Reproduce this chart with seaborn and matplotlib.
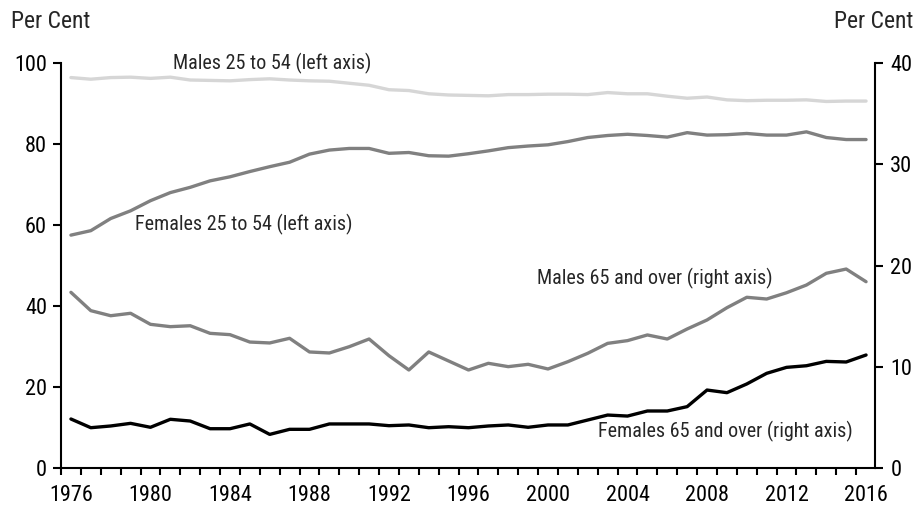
import matplotlib
matplotlib.use("Agg")
import matplotlib.pyplot as plt
import matplotlib.ticker as mticker
import seaborn as sns
import pandas as pd
import numpy as np
from matplotlib import font_manager

years = list(range(1976, 2017))

males_25_54 = [96.4, 96.0, 96.4, 96.5, 96.2, 96.5, 95.8, 95.7, 95.6, 95.9,
               96.1, 95.8, 95.6, 95.5, 95.0, 94.5, 93.4, 93.2, 92.4, 92.1,
               92.0, 91.9, 92.2, 92.2, 92.3, 92.3, 92.2, 92.7, 92.4, 92.4,
               91.8, 91.3, 91.6, 90.9, 90.7, 90.8, 90.8, 90.9, 90.5, 90.6, 90.6]

females_25_54 = [57.5, 58.6, 61.6, 63.5, 66.0, 68.0, 69.3, 70.9, 71.9, 73.2,
                 74.4, 75.5, 77.5, 78.5, 78.9, 78.9, 77.7, 77.9, 77.1, 77.0,
                 77.6, 78.3, 79.1, 79.5, 79.8, 80.6, 81.6, 82.1, 82.4, 82.1,
                 81.7, 82.8, 82.2, 82.3, 82.6, 82.2, 82.2, 83.0, 81.6, 81.1, 81.1]

males_65_over = [17.35, 15.54, 15.04, 15.28, 14.19, 13.96, 14.05, 13.30, 13.17, 12.44,
                 12.35, 12.81, 11.46, 11.36, 11.98, 12.74, 11.09, 9.68, 11.46, 10.57,
                 9.68, 10.34, 10.01, 10.24, 9.78, 10.50, 11.33, 12.31, 12.58, 13.14,
                 12.74, 13.73, 14.62, 15.83, 16.86, 16.69, 17.31, 18.07, 19.23, 19.65, 18.40]

females_65_over = [4.84, 3.98, 4.15, 4.41, 4.02, 4.81, 4.64, 3.88, 3.88, 4.35,
                   3.32, 3.82, 3.82, 4.35, 4.35, 4.35, 4.18, 4.25, 3.98, 4.08,
                   3.98, 4.15, 4.25, 4.02, 4.25, 4.25, 4.74, 5.23, 5.13, 5.63,
                   5.63, 6.06, 7.70, 7.44, 8.30, 9.35, 9.94, 10.10, 10.53, 10.47, 11.16]

left_ticks = [0, 20, 40, 60, 80, 100]
right_ticks = [0, 10, 20, 30, 40]
x_labels = [1976, 1980, 1984, 1988, 1992, 1996, 2000, 2004, 2008, 2012, 2016]

df = pd.DataFrame({
    "year": years,
    "m2554": males_25_54,
    "f2554": females_25_54,
    "m65": males_65_over,
    "f65": females_65_over,
})

sns.set_theme(style="white")
avail = {f.name for f in font_manager.fontManager.ttflist}
fam = ["Liberation Sans Narrow"] if "Liberation Sans Narrow" in avail else ["Roboto Condensed"] if "Roboto Condensed" in avail else ["Liberation Sans"]
plt.rcParams["font.family"] = fam + ["DejaVu Sans"]
plt.rcParams["font.size"] = 16

TICK_FS = 16
ANN_FS = 14.5
TITLE_FS = 17

fig = plt.figure(figsize=(9.19, 5.08), dpi=100)
ax = fig.add_axes([61/919, 1-468/508, (875-61)/919, (468-63)/508])
ax2 = ax.twinx()

lw = 2.4
sns.lineplot(data=df, x="year", y="m2554", ax=ax, color="#d6d6d6", lw=lw)
sns.lineplot(data=df, x="year", y="f2554", ax=ax, color="#808080", lw=lw)
sns.lineplot(data=df, x="year", y="m65", ax=ax2, color="#808080", lw=lw)
sns.lineplot(data=df, x="year", y="f65", ax=ax2, color="#000000", lw=lw)

for a in (ax, ax2):
    a.set_xlim(1975.5, 2016.45)
    a.set_xlabel("")
    a.set_ylabel("")
    a.grid(False)
    for s in a.spines.values():
        s.set_linewidth(1.5)
        s.set_color("black")
    a.spines["top"].set_visible(False)

ax.set_ylim(0, 100)
ax2.set_ylim(0, 40)
ax.set_yticks(left_ticks)
ax2.set_yticks(right_ticks)
ax.set_yticklabels([str(t) for t in left_ticks])
ax2.set_yticklabels([str(t) for t in right_ticks])
ax.spines["right"].set_visible(False)
ax2.spines["left"].set_visible(False)
ax2.spines["bottom"].set_visible(False)

ax.set_xticks(x_labels)
ax.set_xticklabels([str(y) for y in x_labels])
ax.xaxis.set_minor_locator(mticker.FixedLocator(np.arange(1975.5, 2016.6, 1.0)))
ax.tick_params(axis="x", which="major", length=0, pad=12, labelsize=TICK_FS, colors="black")
ax.tick_params(axis="x", which="minor", length=5, width=1.5, direction="out", bottom=True, color="black")
ax.tick_params(axis="y", which="major", length=6, width=1.5, direction="out", pad=4, labelsize=TICK_FS, colors="black", left=True)
ax2.tick_params(axis="y", which="major", length=6, width=1.5, direction="out", pad=5, labelsize=TICK_FS, colors="black", right=True)

fig.text(11/919, 1-22/508, "Per Cent", ha="left", va="center", fontsize=TITLE_FS)
fig.text(913/919, 1-22/508, "Per Cent", ha="right", va="center", fontsize=TITLE_FS)

ax.text(1986.1, 100.0, "Males 25 to 54 (left axis)", ha="center", va="center", fontsize=ANN_FS)
ax.text(1984.7, 60.2, "Females 25 to 54 (left axis)", ha="center", va="center", fontsize=ANN_FS)
ax.text(2005.35, 46.7, "Males 65 and over (right axis)", ha="center", va="center", fontsize=ANN_FS)
ax.text(2008.9, 8.9, "Females 65 and over (right axis)", ha="center", va="center", fontsize=ANN_FS)

fig.savefig("out.png", dpi=100)
